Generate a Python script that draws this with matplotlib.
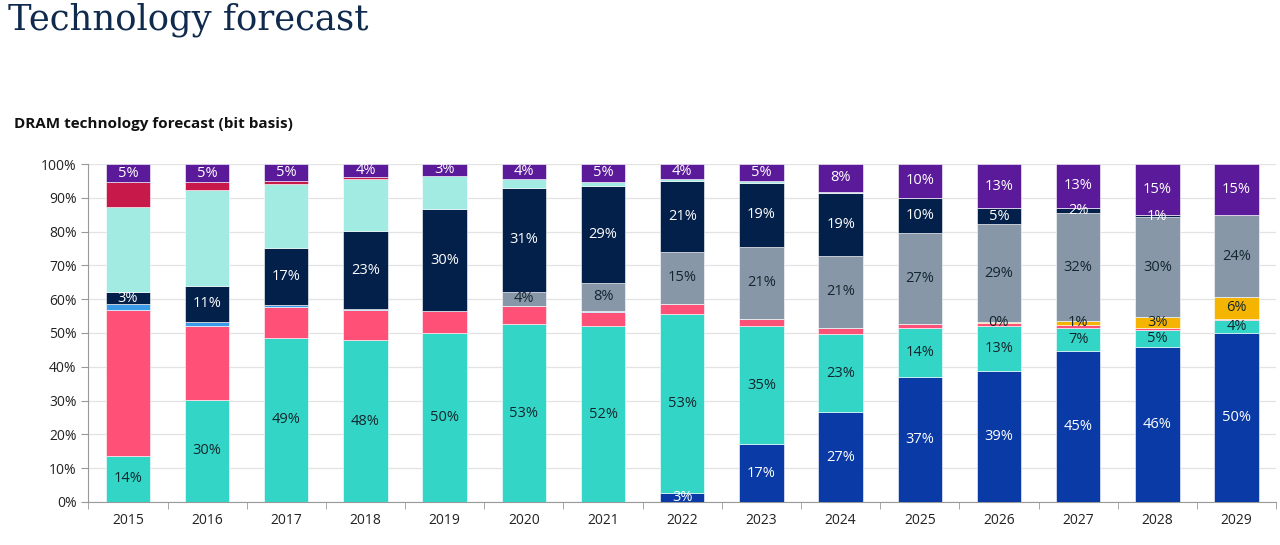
import matplotlib
matplotlib.use("Agg")
import matplotlib.pyplot as plt
import numpy as np
from matplotlib.ticker import FuncFormatter

plt.rcParams['font.family'] = ['Open Sans', 'DejaVu Sans']

years = [str(y) for y in range(2015, 2030)]

# share of bits per technology node, % (bottom to top of each bar)
blue = [0, 0, 0, 0, 0, 0, 0, 2.6, 17.1, 26.6, 37.1, 38.8, 44.7, 45.8, 50.1]
teal = [13.6, 30.2, 48.6, 47.9, 49.9, 52.6, 52.0, 52.9, 35.0, 23.1, 14.3, 13.3, 6.9, 5.2, 3.8]
pink = [43.3, 22.0, 9.1, 8.8, 6.7, 5.5, 4.3, 3.2, 2.0, 1.9, 1.3, 1.0, 0.8, 0.6, 0.3]
orange = [0, 0, 0, 0, 0, 0, 0, 0, 0, 0, 0, 0.2, 1.2, 3.0, 6.4]
light_blue = [1.7, 1.2, 0.6, 0.3, 0, 0, 0.3, 0, 0, 0, 0, 0, 0, 0, 0]
gray = [0, 0, 0, 0, 0, 4.1, 8.3, 15.4, 21.4, 21.3, 27.0, 28.9, 31.8, 29.6, 24.3]
navy = [3.4, 10.6, 16.8, 23.1, 30.0, 30.8, 28.7, 20.9, 19.0, 18.6, 10.3, 4.7, 1.7, 0.6, 0]
light_teal = [25.2, 28.2, 19.0, 15.6, 10.0, 2.6, 1.2, 0.6, 0.5, 0.3, 0, 0, 0, 0, 0]
crimson = [7.4, 2.4, 0.9, 0.6, 0, 0, 0, 0, 0, 0, 0, 0, 0, 0, 0]
purple = [5.4, 5.4, 5.0, 3.7, 3.4, 4.4, 5.2, 4.4, 5.0, 8.2, 10.0, 13.1, 12.9, 15.2, 15.1]

series = [
    (blue, '#0a3aa6', 'white', True),
    (teal, '#33d6c6', '#13262e', True),
    (pink, '#ff5078', None, False),
    (orange, '#f5b400', '#13262e', True),
    (light_blue, '#3b9be8', None, False),
    (gray, '#8797a8', '#13262e', True),
    (navy, '#03204a', 'white', True),
    (light_teal, '#a2ebe2', None, False),
    (crimson, '#c8194b', None, False),
    (purple, '#5b1a99', 'white', True),
]

fig = plt.figure(figsize=(12.8, 5.45), dpi=100)
ax = fig.add_axes([0.069, 0.079, 0.928, 0.620])

x = np.arange(len(years))
bottom = np.zeros(len(years))
for vals, color, tcolor, show in series:
    v = np.array(vals) / 100.0
    ax.bar(x, v, 0.56, bottom=bottom, color=color, edgecolor='white',
           linewidth=0.4, zorder=3)
    if show:
        for i in range(len(years)):
            if vals[i] > 0:
                ax.text(x[i], bottom[i] + v[i] / 2, f"{vals[i]:.0f}%",
                        ha='center', va='center', fontsize=10.5, color=tcolor,
                        zorder=4)
    bottom += v

ax.set_xlim(-0.5, len(years) - 0.5)
ax.set_ylim(0, 1.0)
ax.set_yticks(np.arange(0, 1.01, 0.1))
ax.yaxis.set_major_formatter(FuncFormatter(lambda y, p: f"{y*100:.0f}%"))
ax.set_xticks(x)
ax.set_xticklabels(years)
ax.set_xticks(np.arange(-0.5, len(years), 1), minor=True)
ax.tick_params(axis='x', which='major', length=0, pad=8, labelsize=10, colors='#222222')
ax.tick_params(axis='x', which='minor', length=5, color='#999999')
ax.tick_params(axis='y', length=5, color='#999999', labelsize=10, colors='#222222')
ax.grid(axis='y', color='#e3e3e3', linewidth=0.9, zorder=0)
for s in ['top', 'right']:
    ax.spines[s].set_visible(False)
for s in ['left', 'bottom']:
    ax.spines[s].set_color('#999999')

fig.text(0.006, 0.945, 'Technology forecast', family='DejaVu Serif',
         fontsize=25.5, color='#0f2a4c', va='baseline')
fig.text(0.011, 0.765, 'DRAM technology forecast (bit basis)', fontsize=11,
         fontweight='bold', color='#111111', va='baseline')

fig.savefig('out.png', dpi=100)
